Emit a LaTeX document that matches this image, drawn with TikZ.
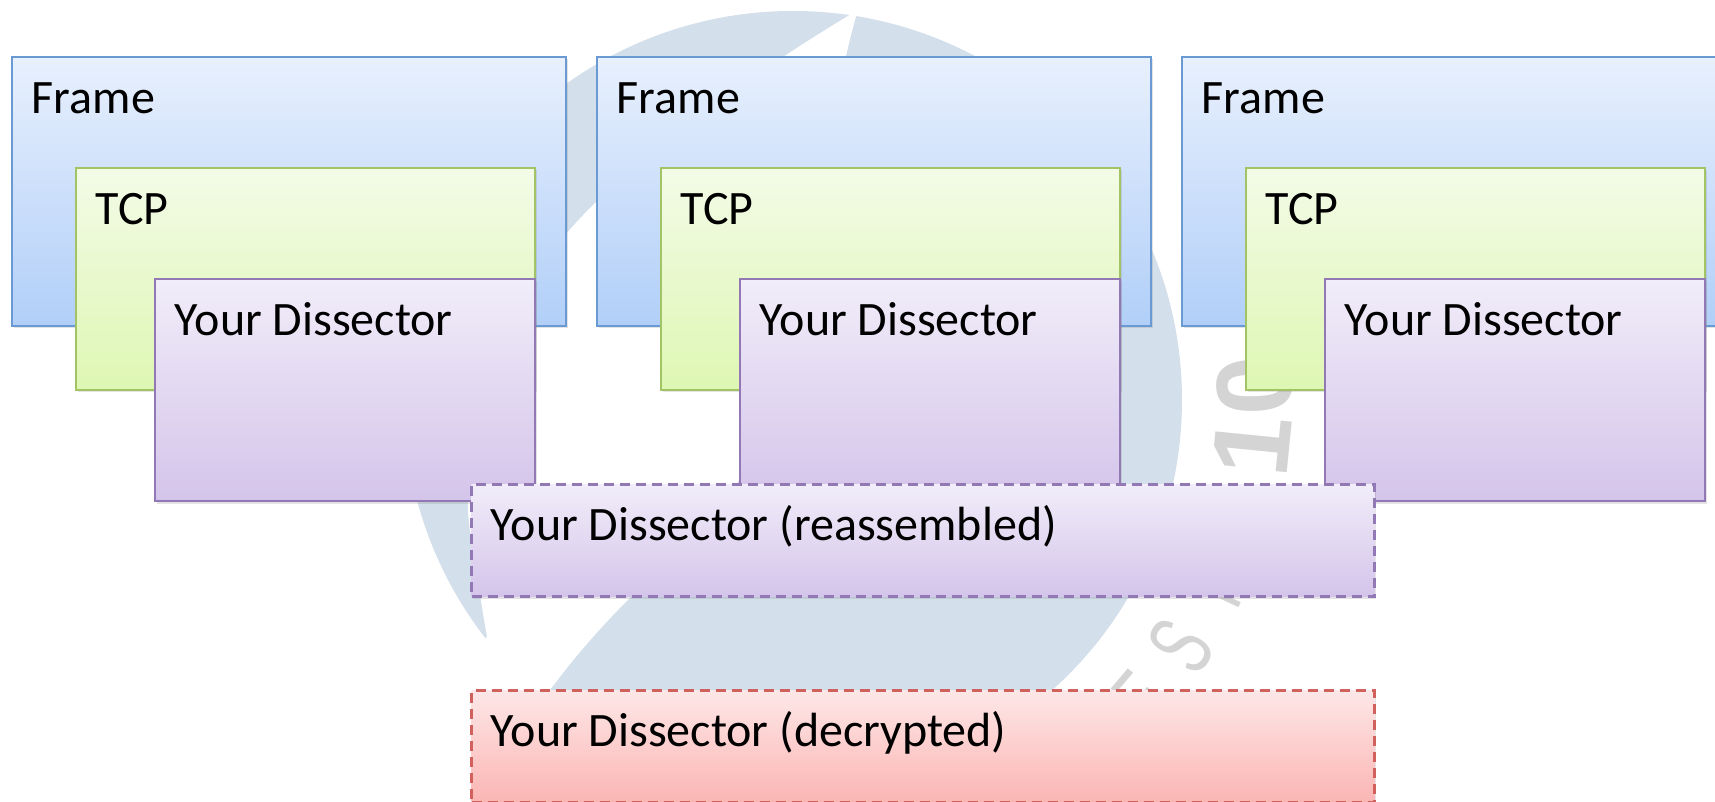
\documentclass[tikz,border=0pt]{standalone}
\usepackage{fontspec}
\setmainfont{Carlito}
\newfontfamily\wmfont{Liberation Sans}
\usetikzlibrary{shadows}
\definecolor{wmblue}{HTML}{D3DFEB}
\definecolor{wmgrey}{HTML}{D4D4D4}
\definecolor{frameTop}{HTML}{E8F0FD}
\definecolor{frameBot}{HTML}{B1CFF8}
\definecolor{frameLine}{HTML}{6A9AD4}
\definecolor{tcpTop}{HTML}{F3FBE7}
\definecolor{tcpBot}{HTML}{DEF7B3}
\definecolor{tcpLine}{HTML}{A3C465}
\definecolor{ydTop}{HTML}{F1EDF9}
\definecolor{ydBot}{HTML}{D4C4EA}
\definecolor{ydLine}{HTML}{9279B5}
\definecolor{decTop}{HTML}{FDE7E7}
\definecolor{decBot}{HTML}{FBB5B3}
\definecolor{decLine}{HTML}{D0615C}
\tikzset{
  pbox/.style={draw, rectangle, anchor=north west, inner sep=0pt, line width=0.9pt,
    drop shadow={shadow xshift=0.9pt, shadow yshift=-1.3pt, opacity=0.22}},
  framebox/.style={pbox, draw=frameLine, top color=frameTop, bottom color=frameBot,
    minimum width=277pt, minimum height=134.5pt},
  tcpbox/.style={pbox, draw=tcpLine, top color=tcpTop, bottom color=tcpBot,
    minimum width=229.5pt, minimum height=111pt},
  ydbox/.style={pbox, draw=ydLine, top color=ydTop, bottom color=ydBot,
    minimum width=190pt, minimum height=111pt},
  dashbox/.style={pbox, line width=1.5pt, dash pattern=on 5pt off 3pt,
    minimum width=451.5pt, minimum height=56pt},
  reabox/.style={dashbox, draw=ydLine, top color=ydTop, bottom color=ydBot},
  decbox/.style={dashbox, draw=decLine, top color=decTop, bottom color=decBot},
  lbl/.style={anchor=base west, inner sep=0pt, xshift=10.25pt, yshift=-28.75pt,
    font=\fontsize{24}{28}\selectfont, text=black},
  wmletter/.style={inner sep=0pt, text=wmgrey, font=\wmfont},
  wmdigit/.style={inner sep=0pt, text=wmgrey, font=\wmfont\bfseries}
}
\begin{document}
\begin{tikzpicture}[x=0.5pt, y=-0.5pt]
\useasboundingbox (0,0) rectangle (1715,802);
\fill[white] (0,0) rectangle (1715,802);
\clip (0,0) rectangle (1715,802);
% watermark
\fill[wmblue] (793,400) circle [radius=389];
\fill[white] (858,10) .. controls (740,80) and (620,170) .. (567,233)
  .. controls (490,330) and (455,470) .. (472,540)
  .. controls (478,580) and (482,610) .. (487,636)
  -- (440,720) -- (545,697)
  .. controls (600,620) and (660,570) .. (705,525)
  .. controls (810,420) and (815,150) .. (858,10) -- cycle;
\node[wmletter, rotate=49.5] (wmE) at (1143,699) {\resizebox{17pt}{31pt}{E}};
\node[wmletter, rotate=57.6] (wmS) at (1181,646) {\resizebox{18.5pt}{32pt}{S}};
\node[wmletter, rotate=65] (wmT) at (1212,592) {\resizebox{18pt}{31pt}{T}};
\node[wmdigit, rotate=84.3] (wm1) at (1252,446) {\resizebox{!}{37.5pt}{1}};
\node[wmdigit, rotate=91.7] (wm0) at (1255,386) {\resizebox{!}{37.5pt}{0}};
% panel 1
\node[framebox] (f1) at (11,56) {};
\node[lbl] (f1t) at (f1.north west) {Frame};
\node[tcpbox] (t1) at (75,167) {};
\node[lbl] (t1t) at (t1.north west) {TCP};
\node[ydbox] (y1) at (154,278) {};
\node[lbl] (y1t) at (y1.north west) {Your Dissector};
% panel 2
\node[framebox] (f2) at (596,56) {};
\node[lbl] (f2t) at (f2.north west) {Frame};
\node[tcpbox] (t2) at (660,167) {};
\node[lbl] (t2t) at (t2.north west) {TCP};
\node[ydbox] (y2) at (739,278) {};
\node[lbl] (y2t) at (y2.north west) {Your Dissector};
% panel 3
\node[framebox] (f3) at (1181,56) {};
\node[lbl] (f3t) at (f3.north west) {Frame};
\node[tcpbox] (t3) at (1245,167) {};
\node[lbl] (t3t) at (t3.north west) {TCP};
\node[ydbox] (y3) at (1324,278) {};
\node[lbl] (y3t) at (y3.north west) {Your Dissector};
% reassembled / decrypted
\node[reabox] (rea) at (470,483) {};
\node[lbl] (reat) at (rea.north west) {Your Dissector (reassembled)};
\node[decbox] (dec) at (470,689) {};
\node[lbl] (dect) at (dec.north west) {Your Dissector (decrypted)};
\end{tikzpicture}
\end{document}
